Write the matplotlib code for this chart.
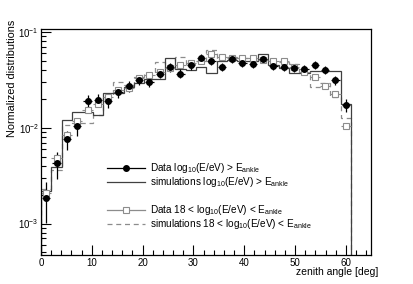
import numpy as np
import matplotlib
matplotlib.use("Agg")
import matplotlib.pyplot as plt
from matplotlib.ticker import LogLocator, MultipleLocator, NullFormatter

plt.rcParams['font.family'] = ['Liberation Sans', 'DejaVu Sans']
plt.rcParams['mathtext.fontset'] = 'custom'
plt.rcParams['mathtext.rm'] = 'Liberation Sans'
plt.rcParams['mathtext.it'] = 'Liberation Sans:italic'

# 30 zenith bins between 0 and 61 deg
bin_edges = np.linspace(0, 61, 31)

# data, log10(E/eV) > E_ankle
data_high = [0.00187, 0.00425, 0.0076, 0.0103, 0.019, 0.0195, 0.019, 0.0236,
             0.027, 0.0318, 0.030, 0.0367, 0.0428, 0.0367, 0.0447, 0.0533,
             0.0494, 0.0434, 0.0522, 0.0478, 0.046, 0.0518, 0.0441, 0.0434,
             0.0424, 0.041, 0.0449, 0.0404, 0.0313, 0.0173]
data_high_err = [0.00085, 0.0013, 0.0017, 0.0022, 0.003, 0.003, 0.003, 0.0032,
                 0.0034, 0.0037, 0.0036, 0.004, 0.0043, 0.004, 0.0044, 0.0047,
                 0.0045, 0.0042, 0.0046, 0.0044, 0.0043, 0.0046, 0.0042, 0.0042,
                 0.0041, 0.0041, 0.0042, 0.004, 0.0036, 0.0027]

# simulations, log10(E/eV) > E_ankle
sim_high = [0.0022, 0.0039, 0.012, 0.0144, 0.0144, 0.0135, 0.0229, 0.0229,
            0.0268, 0.029, 0.032, 0.032, 0.053, 0.0405, 0.040, 0.0434,
            0.0376, 0.049, 0.051, 0.049, 0.050, 0.0585, 0.045, 0.042,
            0.037, 0.037, 0.039, 0.039, 0.039, 0.0177]

# data, 18 < log10(E/eV) < E_ankle
data_low = [0.00209, 0.00486, 0.0084, 0.0117, 0.0152, 0.0177, 0.0211, 0.0248,
            0.0258, 0.0328, 0.0352, 0.0385, 0.0417, 0.0448, 0.047, 0.0495,
            0.0585, 0.0544, 0.0531, 0.053, 0.053, 0.0505, 0.049, 0.049,
            0.0434, 0.0385, 0.0341, 0.0273, 0.0223, 0.0104]
data_low_err = [0.00025, 0.0004, 0.0006, 0.0007, 0.0008, 0.0009, 0.001, 0.0011,
                0.0011, 0.0012, 0.0013, 0.0013, 0.0014, 0.0015, 0.0015, 0.0015,
                0.0016, 0.0016, 0.0016, 0.0016, 0.0016, 0.0016, 0.0015, 0.0015,
                0.0014, 0.0013, 0.0011, 0.001, 0.0009, 0.0007]

# simulations, 18 < log10(E/eV) < E_ankle
sim_low = [0.0023, 0.0036, 0.0107, 0.0112, 0.0113, 0.0136, 0.0219, 0.0298,
           0.028, 0.0337, 0.037, 0.048, 0.042, 0.055, 0.046, 0.050,
           0.064, 0.052, 0.054, 0.053, 0.050, 0.052, 0.050, 0.048,
           0.046, 0.0376, 0.0266, 0.029, 0.021, 0.0125]

legend_labels = [
    r'Data log$_{10}$(E/eV) > E$_{\mathrm{ankle}}$',
    r'simulations log$_{10}$(E/eV) > E$_{\mathrm{ankle}}$',
    r'Data 18 < log$_{10}$(E/eV) < E$_{\mathrm{ankle}}$',
    r'simulations 18 < log$_{10}$(E/eV) < E$_{\mathrm{ankle}}$',
]

GREY = '#8c8c8c'
DARK = '#404040'
DASH = (0, (4, 3))

centers = 0.5 * (bin_edges[:-1] + bin_edges[1:])
half_w = 0.5 * (bin_edges[1] - bin_edges[0])

fig = plt.figure(figsize=(4.13, 2.84), dpi=100)
ax = fig.add_axes([0.0993, 0.102, 0.7997, 0.796])

ax.stairs(sim_low, bin_edges, baseline=1e-6, color=GREY, lw=0.9, linestyle=DASH)
ax.stairs(sim_high, bin_edges, baseline=1e-6, color=DARK, lw=0.9)
ax.errorbar(centers, data_low, yerr=data_low_err, xerr=half_w, fmt='s',
            ms=4.2, mfc='white', mec=GREY, mew=0.8, ecolor=GREY,
            elinewidth=0.8, capsize=0)
ax.errorbar(centers, data_high, yerr=data_high_err, xerr=half_w * 0.8, fmt='o',
            ms=4, color='black', elinewidth=0.9, capsize=0)

ax.set_yscale('log')
ax.set_xlim(0, 65)
ax.set_ylim(4.7e-4, 0.107)

ax.xaxis.set_major_locator(MultipleLocator(10))
ax.xaxis.set_minor_locator(MultipleLocator(2))
ax.yaxis.set_major_locator(LogLocator(base=10))
ax.yaxis.set_minor_locator(LogLocator(base=10, subs=np.arange(2, 10)))
ax.yaxis.set_minor_formatter(NullFormatter())
ax.tick_params(which='both', direction='in', top=False, right=False,
               labelsize=7, width=0.8, pad=2)
ax.tick_params(axis='y', pad=1.5)
ax.tick_params(which='major', length=7)
ax.tick_params(which='minor', length=3.5)
for s in ax.spines.values():
    s.set_linewidth(0.9)

ax.set_xlabel('zenith angle [deg]', fontsize=7.5)
ax.xaxis.set_label_coords(1.02, -0.055)
ax.xaxis.label.set_horizontalalignment('right')
ax.set_ylabel('Normalized distributions', fontsize=7.8)
ax.yaxis.set_label_coords(-0.074, 1.04)
ax.yaxis.label.set_verticalalignment('bottom')
ax.yaxis.label.set_horizontalalignment('right')

# legend drawn by hand, rows placed as in the reference
tr = ax.transAxes
x0, x1, xt = 0.20, 0.315, 0.33
rows = [0.385, 0.323, 0.201, 0.137]
ax.plot([x0, x1], [rows[0]] * 2, transform=tr, color='black', lw=0.9)
ax.plot([(x0 + x1) / 2], [rows[0]], transform=tr, marker='o', ms=4, color='black')
ax.plot([x0, x1], [rows[1]] * 2, transform=tr, color=DARK, lw=0.9)
ax.plot([x0, x1], [rows[2]] * 2, transform=tr, color=GREY, lw=0.9)
ax.plot([(x0 + x1) / 2], [rows[2]], transform=tr, marker='s', ms=4.2,
        mfc='white', mec=GREY, mew=0.8)
ax.plot([x0, x1], [rows[3]] * 2, transform=tr, color=GREY, lw=0.9, linestyle=DASH)
for y, lab in zip(rows, legend_labels):
    ax.text(xt, y, lab, transform=tr, fontsize=7.2, va='center', ha='left')

fig.savefig('out.png', dpi=100)
